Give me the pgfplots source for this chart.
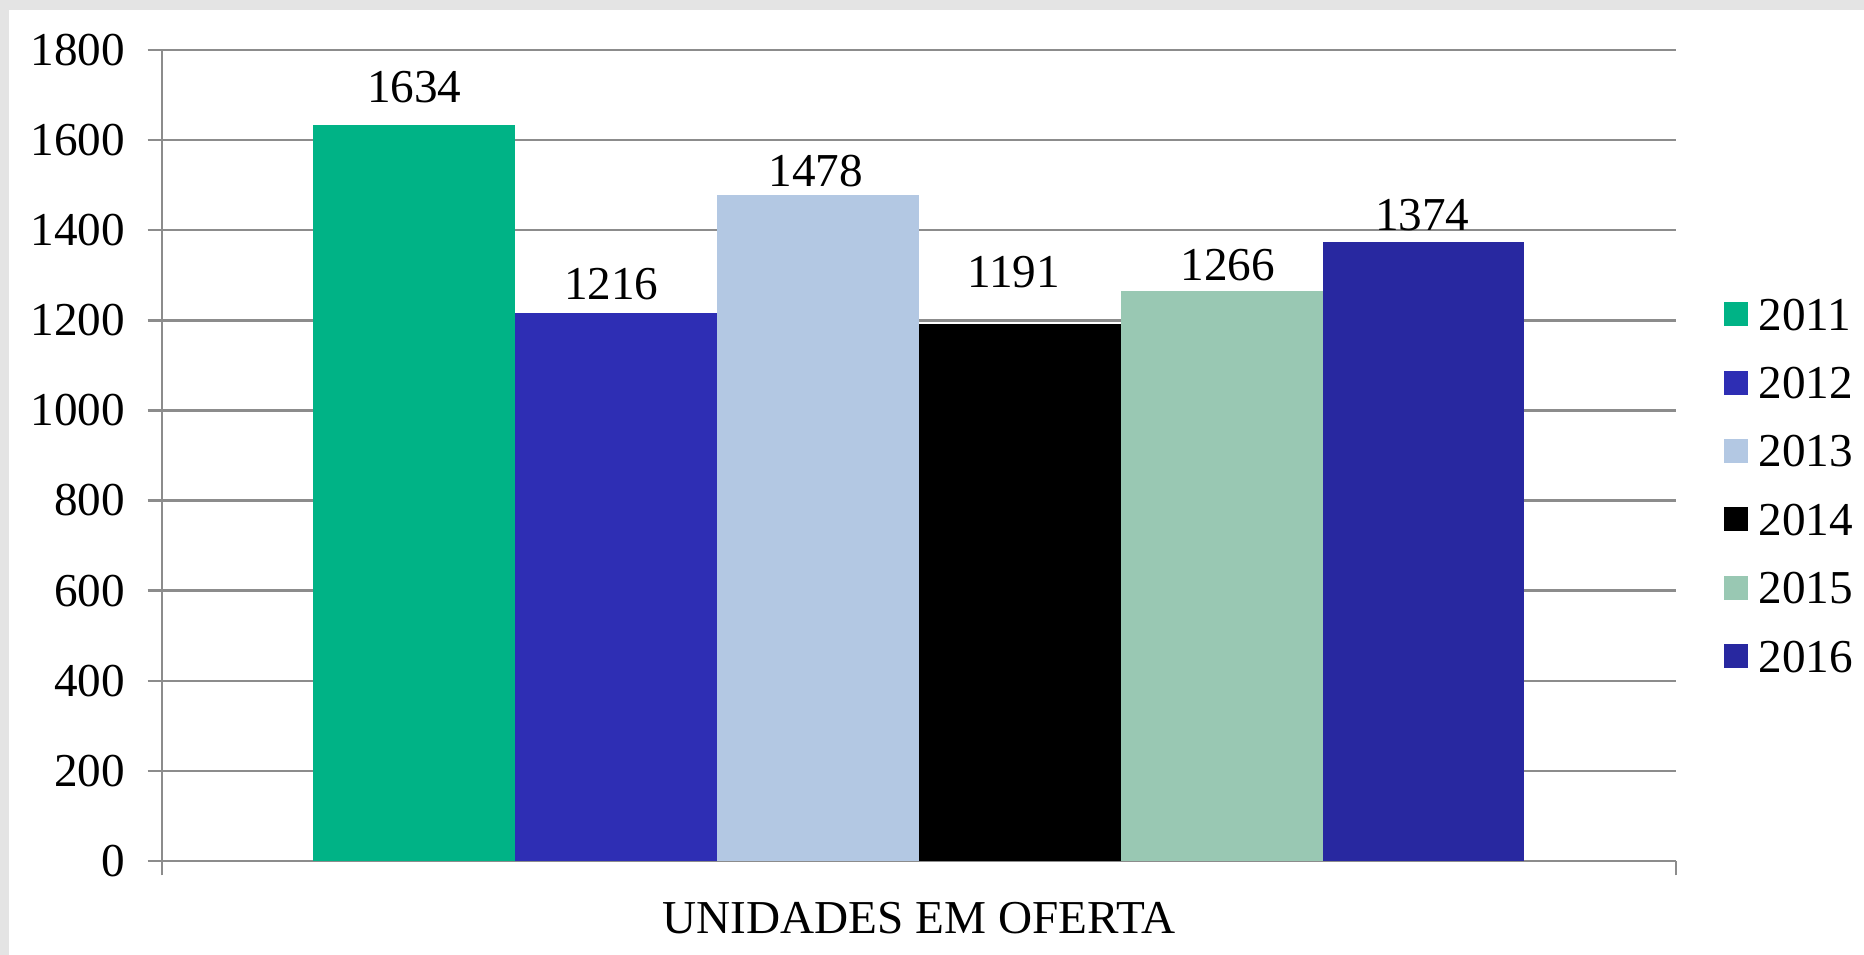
\documentclass[border=0pt]{standalone}
\usepackage{fontspec}
\setmainfont{Liberation Serif}
\usepackage{pgfplots}
\pgfplotsset{compat=1.18}

\definecolor{bggray}{RGB}{228,228,228}
\definecolor{gridc}{RGB}{140,140,140}
\definecolor{c2011}{RGB}{0,179,134}
\definecolor{c2012}{RGB}{46,46,180}
\definecolor{c2013}{RGB}{179,200,227}
\definecolor{c2014}{RGB}{0,0,0}
\definecolor{c2015}{RGB}{153,200,179}
\definecolor{c2016}{RGB}{40,40,160}

\newcommand{\chartfont}{\fontsize{11.8}{14}\selectfont}

\begin{document}
\begin{tikzpicture}[font=\chartfont]
% page background with the grey frame at top and left
\fill[bggray] (0,0) rectangle (466pt,-238.75pt);
\fill[white] (2.25pt,-2.5pt) rectangle (466pt,-238.75pt);

\begin{axis}[
    at={(40.5pt,-215.25pt)}, anchor=south west,
    scale only axis,
    width=378.5pt, height=202.75pt,
    ybar=0pt, bar width=0.13333,
    xmin=-0.5, xmax=0.5,
    ymin=0, ymax=1800,
    ytick={0,200,...,1800},
    xtick={-0.5,0.5}, xticklabels={},
    axis lines*=left,
    axis line style={gridc, line width=0.6pt},
    ymajorgrids,
    grid style={gridc, line width=0.6pt},
    tick align=outside,
    major tick length=3.6pt,
    tick style={gridc, line width=0.6pt},
    /pgf/number format/assume math mode=true,
    /pgf/number format/1000 sep={},
    tick label style={font=\chartfont},
    yticklabel style={xshift=-2.1pt},
    xlabel={UNIDADES EM OFERTA},
    xlabel style={font=\chartfont, at={(axis description cs:0.5,0)}, anchor=center, yshift=-14.25pt},
    legend style={at={(1.031,0.4634)}, anchor=west, draw=none, fill=none,
        inner sep=0pt, row sep=9.1pt, column sep=0pt,
        nodes={inner sep=0pt, inner xsep=2.75pt, text height=8pt, text depth=0pt, font=\chartfont}},
    legend cell align=left,
    legend image code/.code={\fill[#1] (0pt,-3pt) rectangle (6pt,3pt);},
    every node near coord/.append style={font=\chartfont, anchor=base, black},
]
\addplot[fill=c2011, draw=none, nodes near coords,
    nodes near coords style={yshift=5.5pt}] coordinates {(0,1634)};
\addlegendentry{2011}
\addplot[fill=c2012, draw=none, nodes near coords,
    nodes near coords style={yshift=3.4pt, xshift=-1.2pt}] coordinates {(0,1216)};
\addlegendentry{2012}
\addplot[fill=c2013, draw=none, nodes near coords,
    nodes near coords style={yshift=2.2pt, xshift=-0.6pt}] coordinates {(0,1478)};
\addlegendentry{2013}
\addplot[fill=c2014, draw=none, nodes near coords,
    nodes near coords style={yshift=9.1pt, xshift=-1.5pt}] coordinates {(0,1191)};
\addlegendentry{2014}
\addplot[fill=c2015, draw=none, nodes near coords,
    nodes near coords style={yshift=2.5pt, xshift=1.5pt}] coordinates {(0,1266)};
\addlegendentry{2015}
\addplot[fill=c2016, draw=none, nodes near coords,
    nodes near coords style={yshift=2.8pt, xshift=-0.3pt}] coordinates {(0,1374)};
\addlegendentry{2016}
\end{axis}
\end{tikzpicture}
\end{document}
